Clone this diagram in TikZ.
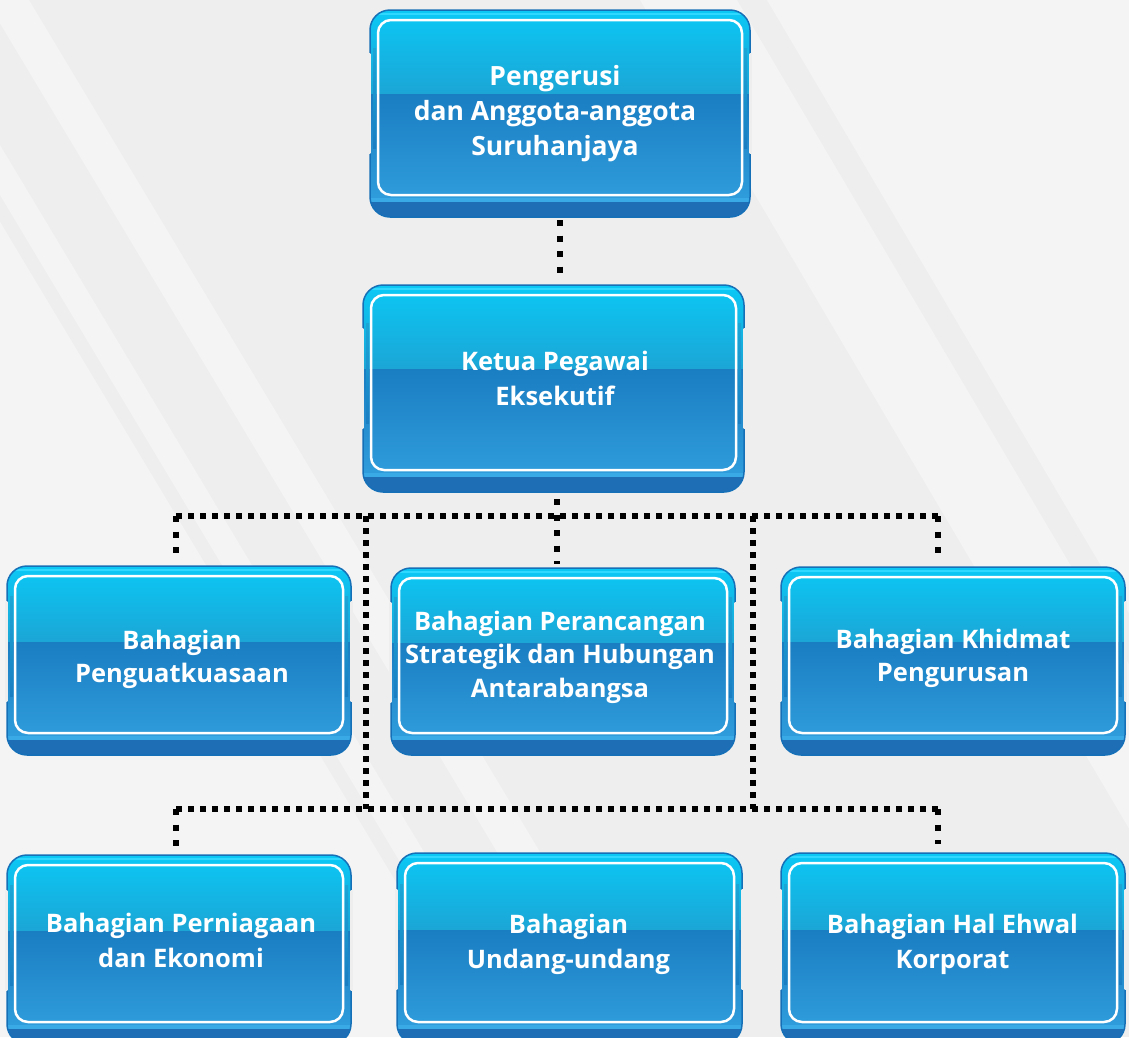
\documentclass[tikz,border=0pt]{standalone}
\usepackage{fontspec}
\setmainfont{Open Sans}
\usetikzlibrary{calc}
\definecolor{bgA}{HTML}{EEEEEE}
\definecolor{bgB}{HTML}{F4F4F4}
\definecolor{edgec}{HTML}{1670B8}
\definecolor{basec}{HTML}{1E6EB6}
\definecolor{topc}{HTML}{0BC8F5}
\definecolor{midA}{HTML}{1BA6D6}
\definecolor{midB}{HTML}{1A7EC2}
\definecolor{botc}{HTML}{2F9CDB}
\definecolor{lipc}{HTML}{3AAAE6}
\definecolor{hilite}{HTML}{2FD8FF}
\tikzset{
  conn/.style={line width=6pt, dash pattern=on 6pt off 6pt, line cap=butt, black},
  connv/.style={line width=6pt, dash pattern=on 6pt off 9.5pt, line cap=butt, black},
  boxarea/.style={draw=none, inner sep=0pt, rectangle},
  txt/.style={text=white, inner sep=0pt, anchor=north, align=center,
    font=\bfseries\fontsize{25.5}{35}\selectfont},
  txtb/.style={txt, font=\bfseries\fontsize{25.5}{33.5}\selectfont},
}
\newcommand\fl{\rule{0pt}{20pt}}
% \glass{x1}{y1}{x2}{y2}
\newcommand\glass[4]{%
  \pgfmathsetmacro\gfb{#4-18}%
  \pgfmathsetmacro\gsp{#2+0.44*(#4-18-#2)}%
  \fill[basec, rounded corners=20pt] (#1,#2) rectangle (#3,#4);
  \begin{scope}
    \clip[rounded corners=20pt] (#1,#2) rectangle (#3,#4);
    \shade[top color=midB, bottom color=botc] (#1,\gsp) rectangle (#3,\gfb);
    \shade[top color=topc, bottom color=midA] (#1,#2) rectangle (#3,\gsp);
    \draw[lipc, line width=4pt] (#1,\gfb+1) -- (#3,\gfb+1);
    \draw[hilite, line width=2pt] (#1,#2+4) -- (#3,#2+4);
    \shade[top color=midA, middle color=white, bottom color=midB] (#1+3,\gsp-45) rectangle (#1+6,\gsp+55);
    \shade[top color=midA, middle color=white, bottom color=midB] (#3-6,\gsp-45) rectangle (#3-3,\gsp+55);
  \end{scope}
  \draw[edgec, line width=1.5pt, rounded corners=20pt] (#1,#2) rectangle (#3,#4);
  \shade[top color=bgA, middle color=black!80, bottom color=bgA] (#1-1.5,\gsp-40) rectangle (#1+0.3,\gsp+60);
  \shade[top color=bgA, middle color=black!80, bottom color=bgA] (#3-0.3,\gsp-40) rectangle (#3+1.5,\gsp+60);
  \draw[white, line width=2.5pt, rounded corners=13pt] (#1+8,#2+10) rectangle (#3-8,\gfb-4);
}
\begin{document}
\begin{tikzpicture}[x=1pt, y=-1pt]
\useasboundingbox (0,0) rectangle (1129,1037);
\clip (0,0) rectangle (1129,1037);
% background
\fill[bgA] (0,0) rectangle (1129,1037);
\fill[bgB] (-14,0) -- (29,0) -- (651,1037) -- (608,1037) -- cycle;
\fill[bgB] (-117,0) -- (-87,0) -- (535,1037) -- (505,1037) -- cycle;
\fill[bgB] (-400,0) -- (-133,0) -- (489,1037) -- (-400,1037) -- cycle;
\fill[bgB] (767,0) -- (1200,0) -- (1200,1037) -- (1379,1037) -- cycle;
\fill[bgB] (640,0) -- (737,0) -- (1349,1037) -- (1252,1037) -- cycle;

% box areas (named nodes)
\node[boxarea, minimum width=380pt, minimum height=207pt] (b1) at (560,113.5) {};
\node[boxarea, minimum width=381pt, minimum height=207pt] (b2) at (553.5,388.5) {};
\node[boxarea, minimum width=344pt, minimum height=189pt] (bA) at (179,660.5) {};
\node[boxarea, minimum width=344pt, minimum height=187pt] (bB) at (563,661.5) {};
\node[boxarea, minimum width=344pt, minimum height=188pt] (bC) at (953,661) {};
\node[boxarea, minimum width=344pt, minimum height=189pt] (bD) at (179,949.5) {};
\node[boxarea, minimum width=345pt, minimum height=191pt] (bE) at (569.5,948.5) {};
\node[boxarea, minimum width=344pt, minimum height=191pt] (bF) at (953,948.5) {};

% connectors
\coordinate (hub) at (557,516);
\coordinate (hL) at (176,516);
\coordinate (hR) at (938,516);
\coordinate (v1) at (366,516);
\coordinate (v2) at (753,516);
\coordinate (lL) at (176,809);
\coordinate (lR) at (938,809);
\draw[connv, shorten <=3pt, shorten >=4pt] (b1.south) -- (b1.south |- b2.north);
\draw[connv, shorten <=7pt, shorten >=4pt] (hub |- b2.south) -- (hub |- bB.north);
\draw[conn] (hL) -- (hR);
\draw[connv, shorten >=13pt] (hL) -- (hL |- bA.north);
\draw[connv, shorten >=13pt] (hR) -- (hR |- bC.north);
\draw[conn] (v1) -- (v1 |- lL);
\draw[conn] (v2) -- (v2 |- lR);
\draw[conn] (lL) -- (lR);
\draw[connv, shorten >=9pt] (lL) -- (lL |- bD.north);
\draw[connv, shorten >=9pt] (lR) -- (lR |- bF.north);

% boxes
\glass{370}{10}{750}{217}
\glass{363}{285}{744}{492}
\glass{7}{566}{351}{755}
\glass{391}{568}{735}{755}
\glass{781}{567}{1125}{755}
\glass{7}{855}{351}{1044}
\glass{397}{853}{742}{1044}
\glass{781}{853}{1125}{1044}

% texts
\node[txt, font=\bfseries\fontsize{26.5}{35}\selectfont] (t1) at (555,65) {\fl Pengerusi\\dan Anggota-anggota\\Suruhanjaya};
\node[txt] (t2) at (555,350) {\fl Ketua Pegawai\\Eksekutif};
\node[txtb, font=\bfseries\fontsize{25.5}{33}\selectfont] (tA) at (182,629) {\fl Bahagian\\Penguatkuasaan};
\node[txtb] (tB) at (560,610) {\fl Bahagian Perancangan\\Strategik dan Hubungan\\Antarabangsa};
\node[txtb] (tC) at (953,628) {\fl Bahagian Khidmat\\Pengurusan};
\node[txt] (tD) at (181,912) {\fl Bahagian Perniagaan\\dan Ekonomi};
\node[txt] (tE) at (568.5,913) {\fl Bahagian\\Undang-undang};
\node[txt] (tF) at (952.5,913) {\fl Bahagian Hal Ehwal\\Korporat};
\end{tikzpicture}
\end{document}
